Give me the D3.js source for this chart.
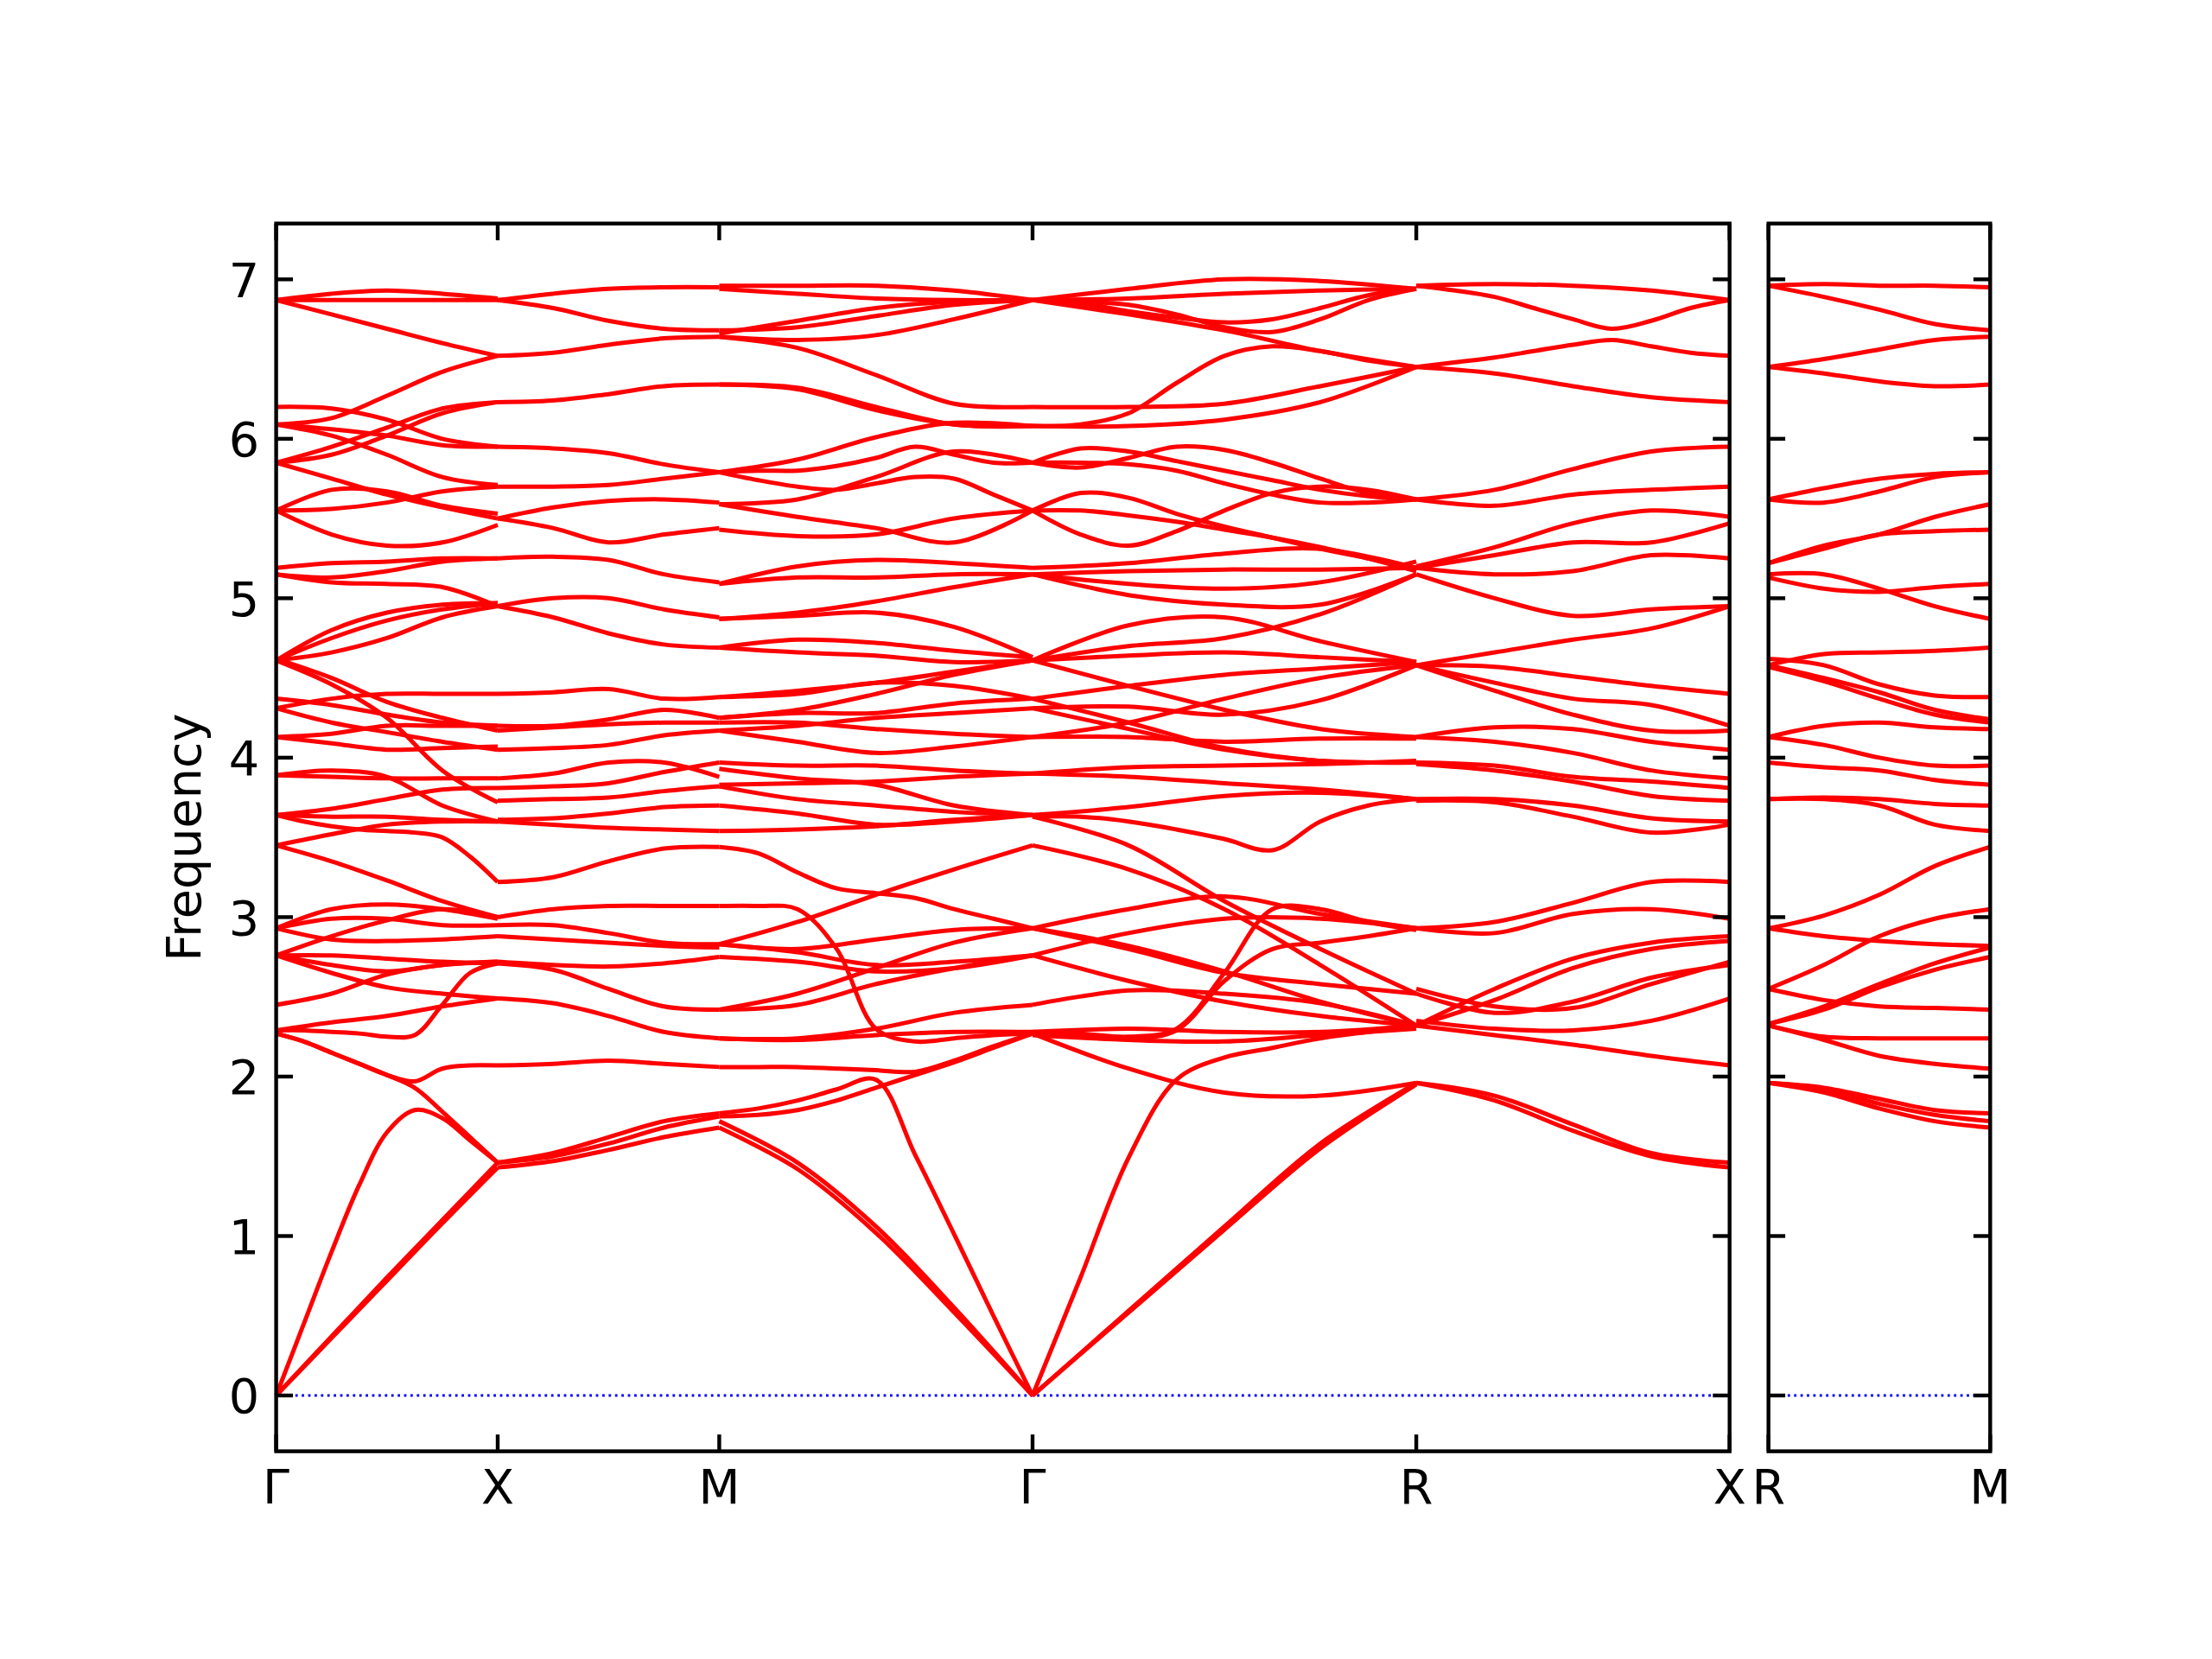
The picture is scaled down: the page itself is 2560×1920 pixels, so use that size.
<!DOCTYPE html>
<html><head><meta charset="utf-8">
<script src="https://cdn.jsdelivr.net/npm/d3@7"></script>
<style>body{margin:0;background:#fff}</style>
</head><body><svg id="c" width="2560" height="1920"></svg>
<script>
// High-symmetry labels and path lengths
const kLabelsLeft = ["Γ","X","M","Γ","R","X"];
const kPosLeft = [0, 0.5, 1.0, 1.7071, 2.5731, 3.2802];
const kLabelsRight = ["R","M"];
const kPosRight = [0, 0.5];
const yTicks = [0,1,2,3,4,5,6,7];

// Band values sampled at evenly spaced points along each segment
const bandsGX = [
[6.87,6.87,6.87,6.87,6.87],[6.87,6.91,6.93,6.91,6.88],[6.87,6.78,6.69,6.60,6.52],
[6.09,6.13,6.27,6.42,6.52],[6.20,6.19,6.12,6.00,5.95],[6.09,6.06,6.02,5.96,5.95],
[6.09,6.02,5.90,5.76,5.71],[5.85,5.95,6.07,6.19,6.23],[5.85,5.90,6.02,6.16,6.23],
[5.85,5.75,5.65,5.57,5.50],[5.55,5.68,5.67,5.58,5.53],[5.55,5.56,5.60,5.67,5.70],
[5.55,5.40,5.33,5.35,5.46],[5.19,5.22,5.23,5.25,5.25],[5.15,5.13,5.17,5.23,5.25],
[5.15,5.10,5.09,5.07,4.95],[4.61,4.80,4.91,4.96,4.97],[4.61,4.75,4.86,4.93,4.97],
[4.61,4.66,4.75,4.88,4.95],[4.31,4.37,4.40,4.40,4.40],[4.37,4.33,4.27,4.22,4.20],
[4.31,4.22,4.16,4.10,4.05],[4.13,4.15,4.20,4.20,4.20],[4.13,4.09,4.05,4.06,4.07],
[4.61,4.46,4.25,3.92,3.72],[4.62,4.50,4.35,4.25,4.17],[3.89,3.92,3.88,3.70,3.60],
[3.89,3.88,3.87,3.87,3.87],[3.64,3.68,3.74,3.80,3.81],[3.64,3.63,3.63,3.61,3.60],
[3.64,3.60,3.57,3.55,3.54,3.53,3.50,3.38,3.22],[3.45,3.52,3.58,3.60,3.60],
[3.45,3.35,3.23,3.10,3.00],[2.93,3.05,3.08,3.05,2.99],[2.93,2.99,2.99,2.95,2.95],
[2.93,2.86,2.85,2.86,2.88],[2.76,2.88,2.98,3.05,3.00],[2.76,2.70,2.66,2.70,2.72],
[2.76,2.76,2.74,2.72,2.71],[2.76,2.65,2.56,2.52,2.49],[2.45,2.52,2.64,2.70,2.72],
[2.29,2.34,2.38,2.44,2.49],[2.29,2.29,2.28,2.27,2.25,2.26,2.45,2.65,2.71],
[0,0.36,0.72,1.08,1.43],[0,0.37,0.74,1.10,1.46],
[0,0.45,0.90,1.32,1.65,1.79,1.74,1.60,1.46],
[2.27,2.22,2.15,2.08,2.01,1.93,1.78,1.62,1.46],
[2.27,2.22,2.15,2.08,2.01,1.97,2.05,2.07,2.07]
];
const bandsXM = [
[6.87,6.91,6.94,6.95,6.95],[6.87,6.82,6.74,6.69,6.68],[6.52,6.54,6.59,6.63,6.64],
[6.23,6.24,6.28,6.33,6.34],[5.95,5.94,5.91,5.84,5.79],[5.70,5.70,5.71,5.75,5.79],
[5.50,5.57,5.61,5.62,5.60],[5.50,5.44,5.35,5.40,5.44],[5.25,5.26,5.24,5.15,5.10],
[4.95,5.00,5.00,4.93,4.88],[4.95,4.88,4.78,4.71,4.69],[4.40,4.41,4.43,4.37,4.38],
[4.20,4.20,4.24,4.30,4.25],[4.17,4.19,4.21,4.22,4.22],[4.05,4.06,4.08,4.14,4.17],
[3.87,3.90,3.97,3.97,3.88],[3.81,3.82,3.84,3.91,3.97],[3.73,3.74,3.75,3.79,3.82],
[3.61,3.62,3.65,3.69,3.70],[3.60,3.58,3.56,3.55,3.54],[3.22,3.25,3.35,3.43,3.44],
[3.00,3.05,3.07,3.07,3.07],[2.95,2.95,2.90,2.84,2.83],[2.88,2.86,2.84,2.82,2.81],
[2.72,2.70,2.69,2.71,2.75],[2.71,2.67,2.55,2.44,2.42],[2.49,2.46,2.38,2.28,2.24],
[2.07,2.08,2.10,2.08,2.06],[1.43,1.47,1.54,1.62,1.68],[1.46,1.52,1.62,1.72,1.77],
[1.46,1.50,1.58,1.68,1.75]
];
const bandsMG = [
[6.96,6.96,6.96,6.93,6.87],[6.94,6.91,6.88,6.87,6.87],[6.68,6.70,6.77,6.84,6.87],
[6.64,6.62,6.65,6.75,6.87],[6.66,6.74,6.82,6.86,6.87],[6.64,6.57,6.40,6.22,6.20],
[6.34,6.32,6.20,6.09,6.08],[6.34,6.31,6.18,6.09,6.08],[5.79,5.87,6.01,6.10,6.08],
[5.79,5.80,5.80,5.83,5.88,5.95,5.90,5.85,5.85],[5.79,5.74,5.70,5.68,5.72,5.76,5.75,5.65,5.55],
[5.59,5.62,5.76,5.92,5.85],[5.43,5.39,5.40,5.50,5.55],[5.59,5.51,5.44,5.35,5.55],
[5.09,5.13,5.13,5.15,5.15],[5.09,5.20,5.24,5.22,5.19],[4.87,4.91,4.98,5.07,5.15],
[4.87,4.89,4.91,4.82,4.63],[4.69,4.74,4.72,4.67,4.63],[4.69,4.66,4.64,4.60,4.61],
[4.38,4.40,4.47,4.45,4.37],[4.38,4.42,4.47,4.54,4.61],[4.25,4.30,4.40,4.52,4.61],
[4.25,4.28,4.28,4.34,4.37],[4.22,4.22,4.18,4.15,4.13],[4.17,4.10,4.03,4.07,4.13],
[4.17,4.20,4.25,4.28,4.31],[3.97,3.95,3.95,3.92,3.90],[3.93,3.87,3.83,3.70,3.64],
[3.83,3.84,3.85,3.88,3.90],[3.82,3.74,3.70,3.66,3.64],[3.70,3.65,3.58,3.60,3.64],
[3.54,3.55,3.57,3.61,3.64],[3.44,3.40,3.28,3.18,3.15,3.12,3.05,2.99,2.93],
[3.07,3.07,3.05,2.80,2.30,2.22,2.24,2.26,2.27],[2.83,2.97,3.14,3.30,3.45],
[2.83,2.80,2.86,2.92,2.93],[2.83,2.78,2.70,2.72,2.76],[2.75,2.72,2.66,2.68,2.76],
[2.42,2.45,2.58,2.68,2.76],[2.42,2.52,2.68,2.84,2.93],[2.24,2.24,2.30,2.40,2.45],
[2.24,2.23,2.26,2.28,2.28],[2.06,2.06,2.06,2.05,2.04,2.03,2.10,2.19,2.27],
[1.75,1.76,1.79,1.85,1.93,2.01,2.09,2.18,2.27],
[1.77,1.80,1.85,1.92,1.98,1.51,1.01,0.50,0],
[1.68,1.42,1.02,0.52,0],[1.72,1.46,1.06,0.55,0]
];
const bandsGR = [
[6.87,6.94,7.00,6.99,6.94],[6.87,6.88,6.91,6.93,6.94],
[6.87,6.85,6.80,6.76,6.73,6.75,6.82,6.90,6.94],[6.87,6.86,6.84,6.78,6.70,6.67,6.75,6.87,6.94],
[6.87,6.78,6.68,6.55,6.45],[6.20,6.20,6.22,6.33,6.45],
[6.08,6.09,6.16,6.35,6.52,6.58,6.55,6.49,6.45],[6.08,6.08,6.12,6.23,6.45],
[5.85,5.82,5.88,5.95,5.93,5.85,5.75,5.66,5.62],[5.85,5.94,5.92,5.86,5.80,5.74,5.68,5.64,5.62],
[5.85,5.85,5.84,5.80,5.72,5.65,5.60,5.60,5.62],[5.55,5.66,5.63,5.53,5.45,5.38,5.31,5.25,5.19],
[5.55,5.40,5.33,5.42,5.55,5.66,5.70,5.68,5.62],[5.55,5.55,5.52,5.48,5.43,5.38,5.32,5.25,5.17],
[5.19,5.22,5.28,5.31,5.19],[5.15,5.17,5.18,5.18,5.19],[5.15,5.09,5.06,5.10,5.23],
[5.15,5.02,4.96,4.96,5.15],[4.61,4.83,4.88,4.73,4.60],[4.61,4.70,4.75,4.90,5.15],
[4.61,4.64,4.66,4.63,4.60],[4.37,4.45,4.52,4.56,4.60],[4.31,4.32,4.27,4.36,4.58],
[4.13,4.13,4.10,4.12,4.12],[4.37,4.22,4.06,3.98,3.97],[4.31,4.18,4.05,3.98,3.97],
[3.90,3.94,3.95,3.96,3.98],[3.90,3.88,3.84,3.80,3.74],[3.64,3.69,3.76,3.78,3.74],
[3.63,3.63,3.60,3.55,3.49,3.42,3.60,3.70,3.74],[4.13,4.22,4.37,4.50,4.58],
[4.61,4.45,4.30,4.18,4.13],[3.45,3.30,3.05,2.70,2.32],[3.63,3.45,3.10,2.80,2.52],
[2.93,3.05,3.13,3.02,2.93],[2.76,2.90,2.99,2.99,2.93],[2.93,2.82,2.66,2.47,2.32],
[2.93,2.80,2.65,2.58,2.52],[2.76,2.60,2.47,2.38,2.32],[2.45,2.54,2.52,2.46,2.32],
[2.28,2.30,2.28,2.28,2.32],[2.26,2.23,2.22,2.26,2.30],
[2.27,2.26,2.24,2.29,2.60,2.80,2.84,2.88,2.93],[2.28,2.27,2.25,2.30,2.65,3.05,3.05,2.97,2.92],
[0,0.74,1.49,1.98,2.12,2.18,2.24,2.28,2.32],[0,0.53,1.06,1.58,1.96],[0,0.52,1.04,1.55,1.95],
[2.27,2.05,1.90,1.88,1.96]
];
const bandsRX = [
[6.96,6.97,6.96,6.93,6.87],[6.96,6.93,6.89,6.82,6.75,6.69,6.74,6.82,6.87],
[6.45,6.48,6.51,6.55,6.59,6.62,6.58,6.54,6.52],[6.45,6.41,6.33,6.26,6.23],
[5.62,5.68,5.81,5.92,5.95],[5.62,5.58,5.65,5.68,5.70],[5.20,5.32,5.47,5.55,5.51],
[5.19,5.27,5.35,5.35,5.47],[5.19,5.15,5.17,5.27,5.25],[5.15,5.00,4.89,4.93,4.95],
[4.58,4.66,4.74,4.81,4.95],[4.58,4.57,4.51,4.45,4.40],[4.58,4.47,4.37,4.33,4.20],
[4.58,4.42,4.27,4.17,4.17],[4.13,4.19,4.18,4.10,4.05],[4.13,4.10,4.03,3.92,3.87],
[3.97,3.95,3.88,3.85,3.81],[3.96,3.92,3.85,3.76,3.73],[3.74,3.74,3.70,3.62,3.60],
[3.73,3.72,3.63,3.53,3.58],[2.93,2.97,3.09,3.22,3.22],[2.93,2.90,3.02,3.05,2.99],
[2.32,2.55,2.74,2.84,2.88],[2.32,2.48,2.68,2.80,2.85],[2.55,2.44,2.43,2.58,2.72],
[2.52,2.40,2.47,2.62,2.70],[2.35,2.30,2.29,2.35,2.49],[2.32,2.26,2.20,2.13,2.07],
[1.96,1.88,1.70,1.52,1.46],[1.96,1.85,1.66,1.50,1.43]
];
const bandsRM = [
[6.96,6.97,6.96,6.96,6.95],[6.96,6.89,6.81,6.72,6.68],[6.45,6.50,6.56,6.62,6.64],
[6.45,6.41,6.36,6.33,6.34],[5.62,5.69,5.75,5.78,5.79],[5.62,5.60,5.67,5.76,5.79],
[5.22,5.33,5.40,5.51,5.59],[5.22,5.31,5.40,5.42,5.43],[5.13,5.06,5.04,5.07,5.09],
[5.15,5.15,5.06,4.95,4.87],[4.58,4.65,4.66,4.67,4.69],[4.62,4.58,4.46,4.39,4.38],
[4.58,4.50,4.41,4.30,4.24],[4.57,4.48,4.37,4.27,4.22],[4.13,4.20,4.22,4.19,4.18],
[4.13,4.08,4.00,3.95,3.95],[3.97,3.94,3.92,3.86,3.83],[3.74,3.75,3.74,3.71,3.70],
[3.74,3.74,3.70,3.58,3.54],[2.93,3.01,3.14,3.32,3.44],[2.93,2.88,2.85,2.83,2.82],
[2.55,2.70,2.88,2.99,3.05],[2.55,2.48,2.44,2.43,2.42],[2.33,2.44,2.58,2.71,2.81],
[2.33,2.42,2.56,2.67,2.75],[2.32,2.25,2.24,2.24,2.24],[2.32,2.23,2.13,2.08,2.05],
[1.96,1.93,1.86,1.79,1.77],[1.96,1.92,1.83,1.76,1.72],[1.96,1.90,1.80,1.72,1.68]
];

const svg = d3.select('#c');
const plotTop = 258.7, plotBottom = 1679.6;
const y = d3.scaleLinear().domain([-0.35, 7.35]).range([plotBottom, plotTop]);
const xL = d3.scaleLinear().domain([0, kPosLeft[5]]).range([319.6, 2001.7]);
const xR = d3.scaleLinear().domain([0, kPosRight[1]]).range([2046.7, 2303.3]);

const segments = [
  {x: xL, a: kPosLeft[0], b: kPosLeft[1], bands: bandsGX},
  {x: xL, a: kPosLeft[1], b: kPosLeft[2], bands: bandsXM},
  {x: xL, a: kPosLeft[2], b: kPosLeft[3], bands: bandsMG},
  {x: xL, a: kPosLeft[3], b: kPosLeft[4], bands: bandsGR},
  {x: xL, a: kPosLeft[4], b: kPosLeft[5], bands: bandsRX},
  {x: xR, a: kPosRight[0], b: kPosRight[1], bands: bandsRM}
];

const font = "'DejaVu Sans', sans-serif";
const fs = 55.6;
const panels = [
  {x: xL, pos: kPosLeft, labels: kLabelsLeft, yLabels: true},
  {x: xR, pos: kPosRight, labels: kLabelsRight, yLabels: false}
];

// zero line
panels.forEach(p => {
  const [r0, r1] = p.x.range();
  svg.append('line').attr('x1', r0).attr('x2', r1).attr('y1', y(0)).attr('y2', y(0))
    .attr('stroke', '#0000ff').attr('stroke-width', 2.8).attr('stroke-dasharray', '2.8,4.6');
});

// bands
const g = svg.append('g');
segments.forEach(s => {
  s.bands.forEach(vals => {
    const n = vals.length - 1;
    const pts = vals.map((v, i) => [s.x(s.a + (s.b - s.a) * i / n), y(v)]);
    g.append('path').attr('d', d3.line().curve(d3.curveCatmullRom.alpha(0.5))(pts))
      .attr('fill', 'none').attr('stroke', '#ff0000').attr('stroke-width', 5)
      .attr('stroke-linejoin', 'round').attr('stroke-linecap', 'butt');
  });
});

// frames, ticks, labels
panels.forEach(p => {
  const [r0, r1] = p.x.range();
  const ax = svg.append('g');
  yTicks.forEach(t => {
    ax.append('line').attr('x1', r0).attr('x2', r0 + 19.4).attr('y1', y(t)).attr('y2', y(t))
      .attr('stroke', '#000').attr('stroke-width', 4.4);
    ax.append('line').attr('x1', r1).attr('x2', r1 - 19.4).attr('y1', y(t)).attr('y2', y(t))
      .attr('stroke', '#000').attr('stroke-width', 4.4);
    if (p.yLabels) {
      ax.append('text').attr('x', r0 - 19.4).attr('y', y(t) + 20.3).attr('text-anchor', 'end')
        .attr('font-family', font).attr('font-size', fs).attr('fill', '#000').text(t);
    }
  });
  p.pos.forEach((k, i) => {
    ax.append('line').attr('x1', p.x(k)).attr('x2', p.x(k)).attr('y1', plotBottom).attr('y2', plotBottom - 19.4)
      .attr('stroke', '#000').attr('stroke-width', 4.4);
    ax.append('line').attr('x1', p.x(k)).attr('x2', p.x(k)).attr('y1', plotTop).attr('y2', plotTop + 19.4)
      .attr('stroke', '#000').attr('stroke-width', 4.4);
    ax.append('text').attr('x', p.x(k)).attr('y', plotBottom + 19.4 + 40.5).attr('text-anchor', 'middle')
      .attr('font-family', font).attr('font-size', fs).attr('fill', '#000').text(p.labels[i]);
  });
  ax.append('rect').attr('x', r0).attr('y', plotTop).attr('width', r1 - r0).attr('height', plotBottom - plotTop)
    .attr('fill', 'none').attr('stroke', '#000').attr('stroke-width', 4.4);
});

svg.append('text').attr('transform', `translate(232,${(plotTop + plotBottom) / 2}) rotate(-90)`)
  .attr('text-anchor', 'middle').attr('font-family', font).attr('font-size', fs).attr('fill', '#000')
  .text('Frequency');
</script></body></html>
